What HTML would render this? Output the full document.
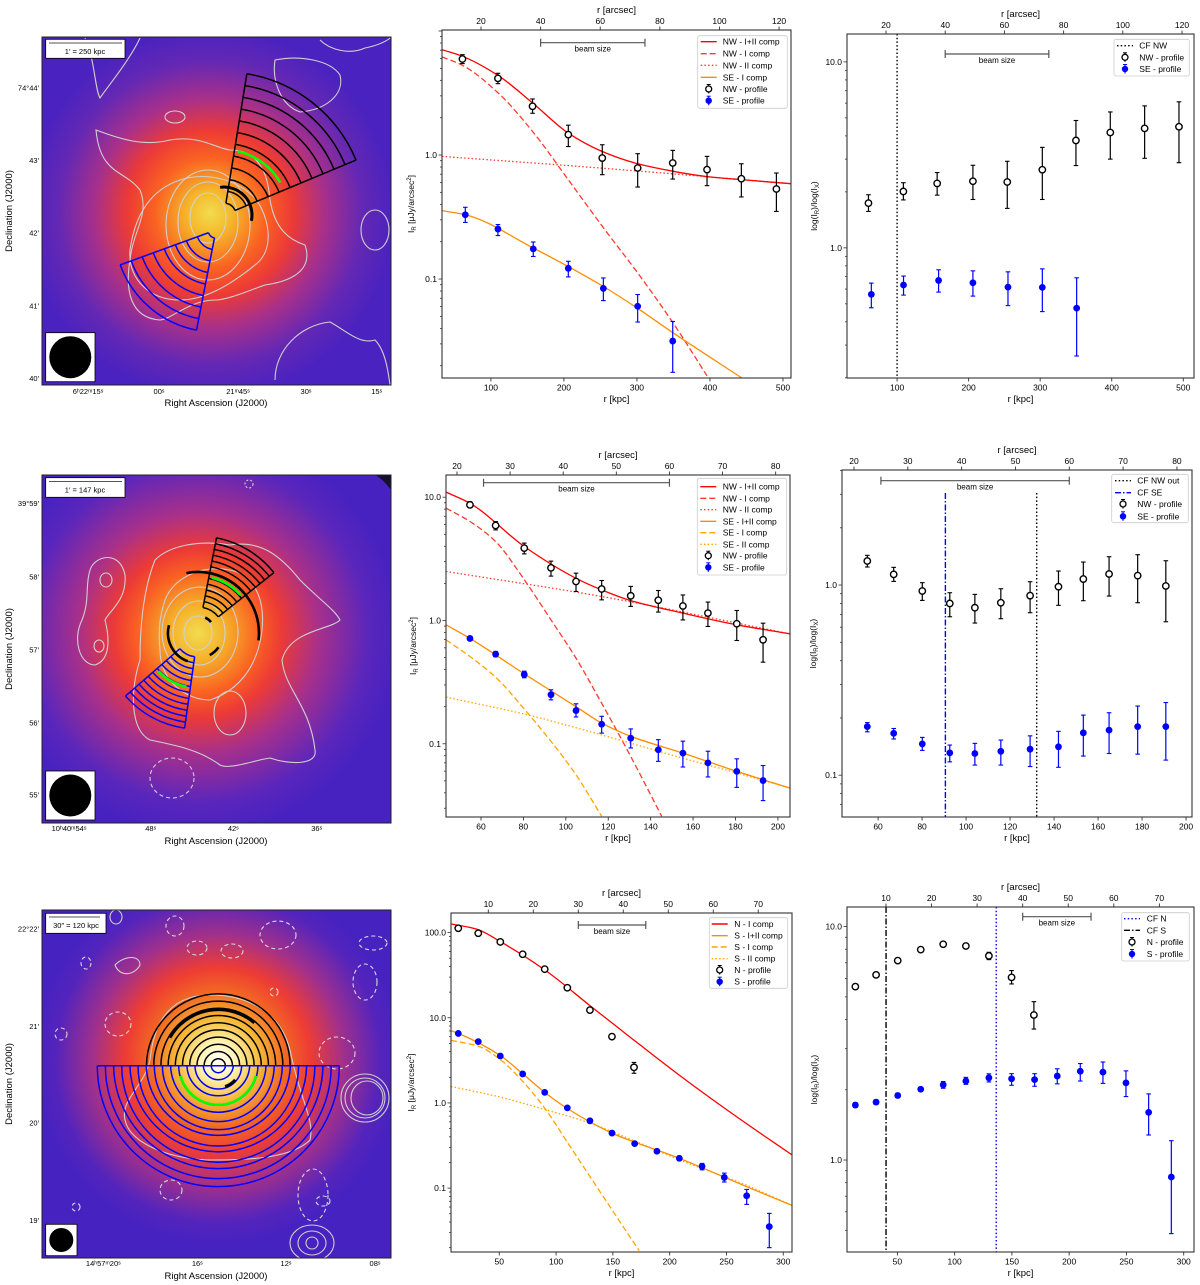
<!DOCTYPE html>
<html><head><meta charset="utf-8">
<style>
html,body{margin:0;padding:0;background:#fff;}
svg{display:block;font-family:"Liberation Sans",sans-serif;}
</style></head>
<body>
<svg id="fig" width="1200" height="1285" viewBox="0 0 1200 1285" xmlns="http://www.w3.org/2000/svg">
<defs>
<radialGradient id="g1" cx="210" cy="213" r="185" gradientUnits="userSpaceOnUse">
<stop offset="0" stop-color="#f2dc50"/><stop offset="0.12" stop-color="#f5b82a"/><stop offset="0.3" stop-color="#fa6222"/><stop offset="0.45" stop-color="#ec3a36"/><stop offset="0.62" stop-color="#a8308a"/><stop offset="0.82" stop-color="#6428b4"/><stop offset="1" stop-color="#4a22c0"/>
</radialGradient>
<radialGradient id="g2" cx="198" cy="633" r="200" gradientUnits="userSpaceOnUse">
<stop offset="0" stop-color="#f2dc50"/><stop offset="0.14" stop-color="#f5b02a"/><stop offset="0.3" stop-color="#fa6222"/><stop offset="0.42" stop-color="#ec3a36"/><stop offset="0.6" stop-color="#a8308a"/><stop offset="0.85" stop-color="#5a26bc"/><stop offset="1" stop-color="#4822c0"/>
</radialGradient>
<radialGradient id="g3" cx="218" cy="1060" r="185" gradientUnits="userSpaceOnUse">
<stop offset="0" stop-color="#ffffff"/><stop offset="0.1" stop-color="#fff4b0"/><stop offset="0.22" stop-color="#f5bc3a"/><stop offset="0.36" stop-color="#f26a22"/><stop offset="0.5" stop-color="#ee3c34"/><stop offset="0.68" stop-color="#a0308c"/><stop offset="0.88" stop-color="#5424bc"/><stop offset="1" stop-color="#4622c0"/>
</radialGradient>
<clipPath id="c1"><rect x="42" y="37" width="349" height="348"/></clipPath>
<clipPath id="c2"><rect x="42" y="475" width="349" height="348"/></clipPath>
<clipPath id="c3"><rect x="42" y="910" width="349" height="348"/></clipPath>
</defs>

<g clip-path="url(#c1)">
<rect x="42" y="37" width="349" height="348" fill="#4a22c0"/>
<rect x="42" y="37" width="349" height="348" fill="url(#g1)"/>
<g fill="none" stroke="#d0d0d0" stroke-width="1.1">
<path d="M96,130 C110,135 140,148 170,140 C200,135 215,148 230,150 C260,150 268,175 270,200 C275,230 290,240 305,245 C312,265 300,280 265,285 C250,290 228,300 215,300 C190,300 170,320 160,320 C130,318 125,290 130,260 C133,230 150,215 140,190 C125,170 100,175 96,130 Z"/>
<path d="M130,250 C135,215 150,190 180,180 C205,172 235,178 255,198 C270,218 275,250 255,265 C230,285 205,300 180,300 C150,300 128,280 130,250 Z"/>
<ellipse cx="208" cy="225" rx="42" ry="55"/>
<ellipse cx="208" cy="222" rx="30" ry="40"/>
<ellipse cx="208" cy="218" rx="18" ry="25"/>
<path d="M85,38 C95,60 95,90 100,98 C105,90 130,60 140,38"/>
<path d="M275,60 C300,55 330,60 340,75 C345,95 325,110 300,112 C280,105 272,80 275,60 Z"/>
<ellipse cx="175" cy="117" rx="10" ry="6"/>
<ellipse cx="375" cy="230" rx="14" ry="20"/>
<path d="M275,380 C275,350 300,325 330,322 C345,330 360,345 375,340 C385,350 388,370 390,385"/>
<path d="M320,40 C330,50 350,55 365,48 C380,45 388,40 390,38"/>
</g>
</g>

<g clip-path="url(#c2)">
<rect x="42" y="475" width="349" height="348" fill="#4822c0"/>
<rect x="42" y="475" width="349" height="348" fill="url(#g2)"/>
<g fill="none" stroke="#d0d0d0" stroke-width="1.1">
<path d="M155,560 C170,545 200,540 230,545 C260,540 280,555 300,580 C320,600 335,610 340,620 C330,630 290,630 282,660 C285,690 310,705 315,750 C318,765 290,765 270,758 C255,760 230,770 220,765 C200,750 175,745 150,740 C130,730 130,690 140,660 C140,620 145,585 155,560 Z"/>
<path d="M165,600 C175,575 205,565 230,570 C255,575 265,600 262,630 C258,665 240,690 210,700 C185,700 160,680 160,650 C158,630 160,615 165,600 Z"/>
<ellipse cx="200" cy="632" rx="38" ry="45"/>
<ellipse cx="199" cy="633" rx="26" ry="32"/>
<ellipse cx="198" cy="633" rx="14" ry="17"/>
<path d="M90,570 C95,555 120,550 125,575 C127,600 110,610 105,620 C110,640 110,660 95,665 C80,665 72,640 82,620 C90,600 85,585 90,570 Z"/>
<ellipse cx="106" cy="580" rx="6" ry="7"/>
<ellipse cx="99" cy="646" rx="5" ry="6"/>
<ellipse cx="230" cy="713" rx="16" ry="22"/>
<ellipse cx="172" cy="778" rx="22" ry="20" stroke-dasharray="4,3"/>
<ellipse cx="249" cy="484" rx="4" ry="4" stroke-dasharray="2,2"/>
</g>
<path d="M375,475 L391,475 L391,490 C387,484 381,478 375,475 Z" fill="#151030"/>
</g>

<g clip-path="url(#c3)">
<rect x="42" y="910" width="349" height="348" fill="#4622c0"/>
<rect x="42" y="910" width="349" height="348" fill="url(#g3)"/>
<g fill="none" stroke="#d0d0d0" stroke-width="1.1">
<path d="M150,1060 C155,1010 180,995 210,995 C245,995 280,1010 290,1050 C300,1100 315,1120 310,1140 C290,1160 240,1160 210,1160 C175,1160 130,1145 125,1120 C120,1100 145,1085 150,1060 Z"/>
<ellipse cx="365" cy="1098" rx="24" ry="24"/><ellipse cx="365" cy="1098" rx="20" ry="20"/><ellipse cx="367" cy="1098" rx="16" ry="17"/>
<ellipse cx="312" cy="1243" rx="22" ry="18"/><ellipse cx="312" cy="1243" rx="14" ry="12"/><ellipse cx="312" cy="1243" rx="6" ry="6"/>
<path d="M115,965 C125,955 140,955 140,965 C135,975 120,978 115,965 Z"/>
<ellipse cx="116" cy="917" rx="6" ry="7"/>
</g>
<g fill="none" stroke="#d8d8d8" stroke-width="1.1" stroke-dasharray="4,3">
<ellipse cx="175" cy="926" rx="9" ry="10"/><ellipse cx="197" cy="948" rx="10" ry="7"/><ellipse cx="232" cy="951" rx="11" ry="7"/>
<ellipse cx="278" cy="935" rx="18" ry="14"/><ellipse cx="373" cy="943" rx="14" ry="7"/><ellipse cx="365" cy="982" rx="12" ry="18"/>
<ellipse cx="118" cy="1024" rx="13" ry="12"/><ellipse cx="61" cy="1034" rx="6" ry="6"/><ellipse cx="337" cy="1053" rx="18" ry="16"/>
<ellipse cx="86" cy="963" rx="5" ry="6"/><ellipse cx="171" cy="1190" rx="11" ry="10"/><ellipse cx="313" cy="1195" rx="15" ry="26"/>
<ellipse cx="323" cy="1201" rx="7" ry="5"/><ellipse cx="76" cy="1207" rx="4" ry="4"/><ellipse cx="274" cy="992" rx="4" ry="4"/>
</g>
</g>

<g id="overlays"></g>

<g font-size="8" fill="#000">
<rect x="42" y="37" width="349" height="348" fill="none" stroke="#222" stroke-width="1"/>
<rect x="42" y="475" width="349" height="348" fill="none" stroke="#222" stroke-width="1"/>
<rect x="42" y="910" width="349" height="348" fill="none" stroke="#222" stroke-width="1"/>

<g><rect x="45.7" y="39.3" width="79.3" height="19" fill="#fff" stroke="#000" stroke-width="0.8"/><line x1="49" y1="43" x2="122" y2="43" stroke="#555" stroke-width="1"/><text x="85" y="54" text-anchor="middle" font-size="7.5">1′ = 250 kpc</text></g>
<g><rect x="45.7" y="332.7" width="49.3" height="49" fill="#fff" stroke="#000" stroke-width="0.8"/><circle cx="70.3" cy="357.2" r="21" fill="#000"/></g>
<g><rect x="45.7" y="477.7" width="79.3" height="19.6" fill="#fff" stroke="#000" stroke-width="0.8"/><line x1="49" y1="481.5" x2="122" y2="481.5" stroke="#555" stroke-width="1"/><text x="85" y="492.5" text-anchor="middle" font-size="7.5">1′ = 147 kpc</text></g>
<g><rect x="45.7" y="771" width="49.3" height="49" fill="#fff" stroke="#000" stroke-width="0.8"/><circle cx="70.3" cy="795.5" r="21" fill="#000"/></g>
<g><rect x="45.7" y="913.3" width="60.3" height="20" fill="#fff" stroke="#000" stroke-width="0.8"/><line x1="49" y1="917" x2="100" y2="917" stroke="#555" stroke-width="1"/><text x="76" y="928" text-anchor="middle" font-size="7.5">30″ = 120 kpc</text></g>
<g><rect x="45.7" y="1224.3" width="31.3" height="31.4" fill="#fff" stroke="#000" stroke-width="0.8"/><circle cx="61.3" cy="1240" r="12" fill="#000"/></g>

<g text-anchor="end" font-size="7.5">
<text x="39" y="90.5">74°44′</text><text x="39" y="163">43′</text><text x="39" y="235.5">42′</text><text x="39" y="308.5">41′</text><text x="39" y="381">40′</text></g>
<g text-anchor="middle" font-size="7.5">
<text x="88" y="394">6ʰ22ᵐ15ˢ</text><text x="159" y="394">00ˢ</text><text x="238" y="394">21ᵐ45ˢ</text><text x="306" y="394">30ˢ</text><text x="376.7" y="394">15ˢ</text></g>
<text x="216" y="406" text-anchor="middle" font-size="9.5">Right Ascension (J2000)</text>
<text transform="translate(12,211) rotate(-90)" text-anchor="middle" font-size="9.5">Declination (J2000)</text>

<g text-anchor="end" font-size="7.5">
<text x="39" y="506">39°59′</text><text x="39" y="579.7">58′</text><text x="39" y="652.3">57′</text><text x="39" y="725.3">56′</text><text x="39" y="797.3">55′</text></g>
<g text-anchor="middle" font-size="7.5">
<text x="69" y="831">10ʰ40ᵐ54ˢ</text><text x="150.7" y="831">48ˢ</text><text x="233.3" y="831">42ˢ</text><text x="316.7" y="831">36ˢ</text></g>
<text x="216" y="844" text-anchor="middle" font-size="9.5">Right Ascension (J2000)</text>
<text transform="translate(12,649) rotate(-90)" text-anchor="middle" font-size="9.5">Declination (J2000)</text>

<g text-anchor="end" font-size="7.5">
<text x="39" y="931.3">22°22′</text><text x="39" y="1029">21′</text><text x="39" y="1125.7">20′</text><text x="39" y="1223">19′</text></g>
<g text-anchor="middle" font-size="7.5">
<text x="103.3" y="1266">14ʰ57ᵐ20ˢ</text><text x="197.3" y="1266">16ˢ</text><text x="286" y="1266">12ˢ</text><text x="375" y="1266">08ˢ</text></g>
<text x="216" y="1279" text-anchor="middle" font-size="9.5">Right Ascension (J2000)</text>
<text transform="translate(12,1084) rotate(-90)" text-anchor="middle" font-size="9.5">Declination (J2000)</text>
</g>
</svg>

<script>
// ===== Row 1 middle (intensity profiles) =====
const r1m_nw_r=[61,109.6,157,206,252.5,301,349,396,443,491];
const r1m_nw_v=[5.94,4.15,2.47,1.46,0.945,0.786,0.862,0.762,0.644,0.532];
const r1m_nw_hi=[6.44,4.56,2.83,1.74,1.21,1.025,1.09,0.975,0.85,0.716];
const r1m_nw_lo=[5.46,3.76,2.17,1.17,0.694,0.552,0.64,0.566,0.459,0.351];
const r1m_se_r=[64.9,109.6,158,206,254,301,349];
const r1m_se_v=[0.330,0.253,0.175,0.122,0.084,0.0603,0.0316];
const r1m_se_hi=[0.379,0.275,0.199,0.139,0.102,0.075,0.0455];
const r1m_se_lo=[0.286,0.224,0.152,0.104,0.067,0.045,0.0177];
const r1m_nwtot_r=[33,61,110,157,206,252,301,349,396,443,511];
const r1m_nwtot_v=[7.07,6.25,4.37,2.63,1.5,1.07,0.85,0.74,0.67,0.633,0.587];
const r1m_nwI_r=[33,61,110,157,206,252,301,349,396];
const r1m_nwI_v=[6.18,5.29,3.16,1.55,0.631,0.269,0.112,0.0447,0.0166];
const r1m_nwII_r=[33,249,511];
const r1m_nwII_v=[0.975,0.786,0.587];
const r1m_seI_r=[33,65,158,254,301,349,443];
const r1m_seI_v=[0.356,0.330,0.178,0.087,0.058,0.037,0.016];
const r1m_xticks=[100,200,300,400,500];
const r1m_yticks=[0.1,1.0];
const r1m_ylabels=["0.1","1.0"];
const r1m_topticks=[20,40,60,80,100,120];
const r1m_beam=[40,75];

// ===== Row 1 right (ratio) =====
const r1r_nw_r=[60,108.8,156,206,254,303,350,398,446,494];
const r1r_nw_v=[1.74,2.01,2.22,2.28,2.26,2.63,3.78,4.17,4.39,4.48];
const r1r_nw_hi=[1.93,2.24,2.54,2.78,2.92,3.47,4.84,5.38,5.80,6.1];
const r1r_nw_lo=[1.57,1.81,1.92,1.82,1.63,1.82,2.77,3.0,3.03,2.87];
const r1r_se_r=[64,109,158,206,255,303,351];
const r1r_se_v=[0.562,0.631,0.668,0.649,0.615,0.613,0.474];
const r1r_se_hi=[0.646,0.705,0.762,0.752,0.743,0.771,0.69];
const r1r_se_lo=[0.476,0.557,0.578,0.55,0.489,0.454,0.262];
const r1r_cf=[100];
const r1r_xticks=[100,200,300,400,500];
const r1r_yticks=[1.0,10.0];
const r1r_ylabels=["1.0","10.0"];
const r1r_topticks=[20,40,60,80,100,120];
const r1r_beam=[40,75];

// ===== Row 2 middle =====
const r2m_r=[54.8,66.9,80.4,93,104.8,116.9,130.6,143.6,155.2,167,180.6,193];
const r2m_nw_v=[8.67,5.89,3.86,2.67,2.07,1.80,1.585,1.46,1.31,1.147,0.94,0.697];
const r2m_nw_hi=[9.17,6.34,4.24,3.03,2.42,2.11,1.89,1.75,1.61,1.41,1.205,0.951];
const r2m_nw_lo=[8.23,5.43,3.47,2.29,1.72,1.47,1.30,1.17,1.01,0.894,0.688,0.459];
const r2m_se_v=[0.715,0.533,0.365,0.25,0.186,0.144,0.111,0.0894,0.084,0.070,0.0597,0.0503];
const r2m_se_hi=[0.742,0.561,0.388,0.274,0.211,0.167,0.132,0.108,0.105,0.087,0.0755,0.0666];
const r2m_se_lo=[0.688,0.508,0.343,0.227,0.165,0.122,0.0925,0.072,0.0648,0.0538,0.0443,0.0346];
const r2m_nwtot_r=[43.5,54.8,80.4,104.8,116.9,130.6,155.2,180.6,205.7];
const r2m_nwtot_v=[10.99,8.93,3.98,2.20,1.77,1.45,1.147,0.922,0.78];
const r2m_nwI_r=[43.5,54.8,66.9,80.4,93,104.8,116.9,130.6,145.2];
const r2m_nwI_v=[8.15,6.35,4.37,2.14,1.01,0.495,0.213,0.079,0.0258];
const r2m_nwII_r=[43.5,116.9,205.7];
const r2m_nwII_v=[2.5,1.565,0.78];
const r2m_setot_r=[43.5,54.8,80.4,104.8,116.9,130.6,155.2,180.6,205.7];
const r2m_setot_v=[0.922,0.715,0.369,0.2,0.147,0.115,0.084,0.0597,0.0437];
const r2m_seI_r=[43.5,54.8,66.9,80.4,93,104.8,116.9];
const r2m_seI_v=[0.697,0.51,0.347,0.191,0.1045,0.0560,0.0258];
const r2m_seII_r=[43.5,80.4,116.9,155.2,180.6,205.7];
const r2m_seII_v=[0.239,0.174,0.118,0.0764,0.058,0.0437];
const r2m_xticks=[60,80,100,120,140,160,180,200];
const r2m_yticks=[0.1,1.0,10.0];
const r2m_ylabels=["0.1","1.0","10.0"];
const r2m_topticks=[20,30,40,50,60,70,80];
const r2m_beam=[25,60];

// ===== Row 2 right =====
const r2r_r=[55.1,67.1,80.1,92.6,104,115.8,129.1,142,153.3,165,178,190.8];
const r2r_nw_v=[1.338,1.138,0.930,0.80,0.76,0.807,0.879,0.98,1.075,1.143,1.12,0.988];
const r2r_nw_hi=[1.433,1.239,1.029,0.911,0.893,0.956,1.041,1.185,1.321,1.409,1.444,1.342];
const r2r_nw_lo=[1.244,1.045,0.830,0.681,0.631,0.665,0.715,0.782,0.827,0.875,0.807,0.641];
const r2r_se_v=[0.18,0.166,0.146,0.131,0.130,0.1335,0.137,0.141,0.167,0.1725,0.18,0.18];
const r2r_se_hi=[0.189,0.176,0.158,0.144,0.147,0.153,0.161,0.170,0.207,0.213,0.231,0.241];
const r2r_se_lo=[0.169,0.155,0.135,0.1175,0.113,0.113,0.111,0.110,0.126,0.13,0.129,0.12];
const r2r_cf_se=[90.6];
const r2r_cf_nw=[132.1];
const r2r_xticks=[60,80,100,120,140,160,180,200];
const r2r_yticks=[0.1,1.0];
const r2r_ylabels=["0.1","1.0"];
const r2r_topticks=[20,30,40,50,60,70,80];
const r2r_beam=[25,60];

// ===== Row 3 middle =====
const r3m_n_r=[13.9,31.5,50.9,70.6,90,109.9,129.8,149.2,168.6];
const r3m_n_v=[112.4,98.2,77.7,55.7,37.2,22.5,12.3,6.0,2.62];
const r3m_n_hi=[115,100.5,79.5,57,38,23,12.6,6.2,2.99];
const r3m_n_lo=[110,96,76,54.4,36.4,22,12,5.8,2.23];
const r3m_s_r=[13.9,31.5,50.9,70.6,90,109.9,129.8,149.2,169.2,188.8,208.5,228.5,248.1,267.8,287.7];
const r3m_s_v=[6.55,5.25,3.56,2.19,1.33,0.875,0.617,0.443,0.333,0.271,0.224,0.180,0.1335,0.0813,0.0353];
const r3m_s_hi=[6.75,5.4,3.65,2.25,1.37,0.9,0.635,0.456,0.343,0.282,0.236,0.195,0.150,0.0965,0.0505];
const r3m_s_lo=[6.35,5.1,3.47,2.13,1.29,0.85,0.6,0.43,0.323,0.26,0.212,0.164,0.118,0.0644,0.02];
const r3m_nI_r=[7.5,30,50.9,90,129.8,168.6,207.9,256,307.4];
const r3m_nI_v=[126,110,78.4,36.5,13.9,5.46,2.15,0.733,0.247];
const r3m_stot_r=[7.5,13.9,50.9,70.6,90,109.9,149.2,208.5,267.8,307.7];
const r3m_stot_v=[7.05,6.55,3.6,2.2,1.33,0.86,0.443,0.224,0.104,0.0627];
const r3m_sI_r=[7.5,31.5,50.9,70.6,90,109.9,129.8,149.2,173.2];
const r3m_sI_v=[5.43,4.64,3.23,1.79,0.87,0.346,0.137,0.0557,0.0184];
const r3m_sII_r=[7.5,50.9,90,129.8,168.6,208.5,267.8,307.7];
const r3m_sII_v=[1.56,1.17,0.838,0.58,0.36,0.215,0.108,0.0627];
const r3m_xticks=[50,100,150,200,250,300];
const r3m_yticks=[0.1,1.0,10.0,100.0];
const r3m_ylabels=["0.1","1.0","10.0","100.0"];
const r3m_topticks=[10,20,30,40,50,60,70];
const r3m_beam=[30,45];

// ===== Row 3 right =====
const r3r_n_r=[13.3,31.4,50.3,70.4,90,109.8,129.9,149.7,169.2];
const r3r_n_v=[5.53,6.21,7.15,7.97,8.40,8.26,7.49,6.06,4.18];
const r3r_n_hi=[5.68,6.35,7.3,8.12,8.6,8.45,7.76,6.48,4.77];
const r3r_n_lo=[5.38,6.07,7.0,7.82,8.2,8.07,7.22,5.68,3.64];
const r3r_s_r=[13.3,31.4,50.3,70.4,90,109.8,129.9,149.7,169.8,189.6,209.7,229.5,249.6,269.4,289.2];
const r3r_s_v=[1.72,1.77,1.89,2.01,2.10,2.18,2.25,2.23,2.21,2.29,2.40,2.38,2.14,1.60,0.846];
const r3r_s_hi=[1.76,1.81,1.93,2.05,2.17,2.26,2.34,2.344,2.344,2.46,2.59,2.63,2.41,1.92,1.21];
const r3r_s_lo=[1.68,1.73,1.85,1.97,2.03,2.11,2.16,2.09,2.07,2.12,2.18,2.13,1.87,1.28,0.484];
const r3r_cf_s=[40.1];
const r3r_cf_n=[136.3];
const r3r_xticks=[50,100,150,200,250,300];
const r3r_yticks=[1.0,10.0];
const r3r_ylabels=["1.0","10.0"];
const r3r_topticks=[10,20,30,40,50,60,70];
const r3r_beam=[40,55];

const NS='http://www.w3.org/2000/svg';
const svg=document.getElementById('fig');
function mk(parent,tag,attrs,name,inter){
  const el=document.createElementNS(NS,tag);
  for(const k in attrs) el.setAttribute(k,attrs[k]);
  
  
  parent.appendChild(el);
  return el;
}
function txt(parent,x,y,s,size,anchor,name){
  const t=mk(parent,'text',{x:x,y:y,'font-size':size,'text-anchor':anchor||'middle',fill:'#000'},name,false);
  t.textContent=s;
  return t;
}
function smooth(pts){
  const n=pts.length;
  const f=v=>v.toFixed(1);
  if(n<3){return 'M'+pts.map(p=>f(p[0])+','+f(p[1])).join(' L');}
  const dx=[],sl=[];
  for(let i=0;i<n-1;i++){dx.push(pts[i+1][0]-pts[i][0]);sl.push((pts[i+1][1]-pts[i][1])/dx[i]);}
  const m=new Array(n);
  m[0]=sl[0];m[n-1]=sl[n-2];
  for(let i=1;i<n-1;i++){
    if(sl[i-1]*sl[i]<=0) m[i]=0;
    else{const w1=2*dx[i]+dx[i-1],w2=dx[i]+2*dx[i-1];m[i]=(w1+w2)/(w1/sl[i-1]+w2/sl[i]);}
  }
  let d='M'+f(pts[0][0])+','+f(pts[0][1]);
  for(let i=0;i<n-1;i++){
    const h=dx[i]/3;
    d+=' C'+f(pts[i][0]+h)+','+f(pts[i][1]+m[i]*h)+' '+f(pts[i+1][0]-h)+','+f(pts[i+1][1]-m[i+1]*h)+' '+f(pts[i+1][0])+','+f(pts[i+1][1]);
  }
  return d;
}
let clipN=0;
const DASH={solid:'none',dashed:'6,3',dotted:'1.5,2.2',dashdot:'6,2,1.5,2'};
function plot(c){
  const g=mk(svg,'g',{},c.name,false);
  const X=r=>c.x0+(r-c.xmin)/(c.xmax-c.xmin)*(c.x1-c.x0);
  const Y=v=>c.y1-(Math.log10(v)-c.lmin)/(c.lmax-c.lmin)*(c.y1-c.y0);
  const A=a=>c.x0+(a-c.amin)/(c.amax-c.amin)*(c.x1-c.x0);
  clipN++;
  const cp=mk(svg.querySelector('defs'),'clipPath',{id:'pc'+clipN},'plot-clip',false);
  mk(cp,'rect',{x:c.x0,y:c.y0,width:c.x1-c.x0,height:c.y1-c.y0},'plot-clip-rect',false);
  const inner=mk(g,'g',{'clip-path':'url(#pc'+clipN+')'},'plot-area',false);
  (c.vlines||[]).forEach(vl=>{
    const ytop=vl.top?Y(vl.top):c.y0;
    mk(inner,'line',{x1:X(vl.r),x2:X(vl.r),y1:ytop,y2:c.y1,stroke:vl.color,'stroke-width':1.4,'stroke-dasharray':DASH[vl.dash]},vl.name,false);
  });
  (c.curves||[]).forEach(cv=>{
    const pts=cv.r.map((r,i)=>[X(r),Y(cv.v[i])]);
    mk(inner,'path',{d:smooth(pts),fill:'none',stroke:cv.color,'stroke-width':cv.w||1.3,'stroke-dasharray':DASH[cv.dash]},cv.name,false);
  });
  (c.series||[]).forEach(s=>{
    const sg=mk(inner,'g',{},s.name,false);
    s.r.forEach((r,i)=>{
      const x=X(r);
      mk(sg,'line',{x1:x,x2:x,y1:Y(s.hi[i]),y2:Y(s.lo[i]),stroke:s.color,'stroke-width':1.2},s.name+'-errorbar',false);
      mk(sg,'line',{x1:x-2.3,x2:x+2.3,y1:Y(s.hi[i]),y2:Y(s.hi[i]),stroke:s.color,'stroke-width':1.1},s.name+'-cap',false);
      mk(sg,'line',{x1:x-2.3,x2:x+2.3,y1:Y(s.lo[i]),y2:Y(s.lo[i]),stroke:s.color,'stroke-width':1.1},s.name+'-cap',false);
      if(s.open) mk(sg,'circle',{cx:x,cy:Y(s.v[i]),r:3.2,fill:'#fff',stroke:'#000','stroke-width':1.4},s.name+'-point',true);
      else mk(sg,'circle',{cx:x,cy:Y(s.v[i]),r:3.4,fill:'#0000ff'},s.name+'-point',true);
    });
  });
  const bg=mk(g,'g',{},'beam-size-bar',false);
  const bx0=A(c.beam[0]),bx1=A(c.beam[1]);
  mk(bg,'line',{x1:bx0,x2:bx1,y1:c.beamY,y2:c.beamY,stroke:'#555','stroke-width':1.2},'beam-bar-line',false);
  mk(bg,'line',{x1:bx0,x2:bx0,y1:c.beamY-4,y2:c.beamY+4,stroke:'#555','stroke-width':1.2},'beam-bar-cap',false);
  mk(bg,'line',{x1:bx1,x2:bx1,y1:c.beamY-4,y2:c.beamY+4,stroke:'#555','stroke-width':1.2},'beam-bar-cap',false);
  txt(bg,(bx0+bx1)/2,c.beamY+9,'beam size',8,'middle','beam-size-label');
  mk(g,'rect',{x:c.x0,y:c.y0,width:c.x1-c.x0,height:c.y1-c.y0,fill:'none',stroke:'#333','stroke-width':1.1},'plot-frame',false);
  c.xticks.forEach(t=>{
    const x=X(t);
    mk(g,'line',{x1:x,x2:x,y1:c.y1,y2:c.y1+3.5,stroke:'#333','stroke-width':0.9},'x-tick',false);
    txt(g,x,c.y1+12.5,String(t),8.5,'middle','x-tick-label');
  });
  txt(g,(c.x0+c.x1)/2,c.y1+24,'r [kpc]',9.5,'middle','x-axis-title');
  c.topticks.forEach(t=>{
    const x=A(t);
    mk(g,'line',{x1:x,x2:x,y1:c.y0,y2:c.y0-3.5,stroke:'#333','stroke-width':0.9},'top-tick',false);
    txt(g,x,c.y0-6,String(t),8.5,'middle','top-tick-label');
  });
  txt(g,(c.x0+c.x1)/2,c.y0-17,'r  [arcsec]',9.5,'middle','top-axis-title');
  for(let d=Math.floor(c.lmin);d<=Math.ceil(c.lmax);d++){
    for(let m=1;m<10;m++){
      const lv=d+Math.log10(m);
      if(lv<c.lmin||lv>c.lmax) continue;
      const y=Y(Math.pow(10,lv));
      mk(g,'line',{x1:c.x0,x2:c.x0-(m===1?3.5:2),y1:y,y2:y,stroke:'#333','stroke-width':0.8},m===1?'y-tick':'y-minor-tick',false);
    }
  }
  c.yticks.forEach((t,i)=>{
    txt(g,c.x0-5,Y(t)+3,c.ylabels[i],8.5,'end','y-tick-label');
  });
  const yl=mk(g,'text',{transform:'translate('+(c.ylabelX)+','+((c.y0+c.y1)/2)+') rotate(-90)','font-size':8.5,'text-anchor':'middle',fill:'#000'},'y-axis-title',false);
  if(c.ratio){
    yl.innerHTML='log(I<tspan font-size="6" dy="2">R</tspan><tspan dy="-2">)/log(I</tspan><tspan font-size="6" dy="2">X</tspan><tspan dy="-2">)</tspan>';
  } else {
    yl.innerHTML='I<tspan font-size="6" dy="2">R</tspan><tspan dy="-2"> [μJy/arcsec</tspan><tspan font-size="6" dy="-3">2</tspan><tspan dy="3">]</tspan>';
  }
  const L=c.legend;
  const lg=mk(g,'g',{},'legend',false);
  mk(lg,'rect',{x:L.x0,y:L.y0,width:L.x1-L.x0,height:L.y1-L.y0,rx:2,fill:'#fff','fill-opacity':0.85,stroke:'#ccc','stroke-width':0.8},'legend-box',false);
  L.items.forEach((it,i)=>{
    const y=L.ys[i];
    const eg=mk(lg,'g',{},'legend-entry',false);
    if(it.type==='line'){
      mk(eg,'line',{x1:L.lx0,x2:L.lx0+16,y1:y,y2:y,stroke:it.color,'stroke-width':1.4,'stroke-dasharray':DASH[it.dash]},'legend-line',false);
    } else {
      const cx=L.lx0+8;
      mk(eg,'line',{x1:cx,x2:cx,y1:y-4.5,y2:y+4.5,stroke:it.color,'stroke-width':1.1},'legend-errorbar',false);
      mk(eg,'line',{x1:cx-2,x2:cx+2,y1:y-4.5,y2:y-4.5,stroke:it.color,'stroke-width':1},'legend-cap',false);
      if(it.open) mk(eg,'circle',{cx:cx,cy:y,r:3,fill:'#fff',stroke:'#000','stroke-width':1.3},'legend-marker',false);
      else mk(eg,'circle',{cx:cx,cy:y,r:3.2,fill:'#0000ff'},'legend-marker',false);
    }
    txt(eg,L.tx,y+3,it.label,8.5,'start','legend-label');
  });
}
const RED='#ff0000',RED2='#ff3b2f',DO='#ff8c00',OR='#ffa500',BL='#0000ff';

plot({name:'profile-plot-1',x0:442,x1:791,y0:30,y1:378,xmin:33,xmax:511,lmin:-1.798,lmax:1.008,amin:6.91,amax:124.0,
  xticks:r1m_xticks,yticks:r1m_yticks,ylabels:r1m_ylabels,topticks:r1m_topticks,beam:r1m_beam,beamY:42.7,ylabelX:414,
  curves:[{r:r1m_nwII_r,v:r1m_nwII_v,color:RED2,dash:'dotted',name:'nw-ii-comp-curve'},
          {r:r1m_nwI_r,v:r1m_nwI_v,color:RED2,dash:'dashed',name:'nw-i-comp-curve'},
          {r:r1m_nwtot_r,v:r1m_nwtot_v,color:RED,dash:'solid',name:'nw-total-curve'},
          {r:r1m_seI_r,v:r1m_seI_v,color:DO,dash:'solid',name:'se-i-comp-curve'}],
  series:[{r:r1m_nw_r,v:r1m_nw_v,hi:r1m_nw_hi,lo:r1m_nw_lo,open:true,color:'#000',name:'nw-profile'},
          {r:r1m_se_r,v:r1m_se_v,hi:r1m_se_hi,lo:r1m_se_lo,open:false,color:BL,name:'se-profile'}],
  legend:{x0:697.7,x1:787.3,y0:35.7,y1:108.3,lx0:700.7,tx:722.7,ys:[41.7,53.7,65.3,77.3,89,100.7],
    items:[{type:'line',color:RED,dash:'solid',label:'NW - I+II comp'},{type:'line',color:RED2,dash:'dashed',label:'NW - I comp'},
           {type:'line',color:RED2,dash:'dotted',label:'NW - II comp'},{type:'line',color:DO,dash:'solid',label:'SE - I comp'},
           {type:'m',open:true,color:'#000',label:'NW - profile'},{type:'m',open:false,color:BL,label:'SE - profile'}]}
});

plot({name:'ratio-plot-1',ratio:true,x0:847,x1:1194,y0:34,y1:378,xmin:30,xmax:515,lmin:-0.70,lmax:1.15,amin:6.82,amax:124.05,
  xticks:r1r_xticks,yticks:r1r_yticks,ylabels:r1r_ylabels,topticks:r1r_topticks,beam:r1r_beam,beamY:54,ylabelX:817,
  vlines:[{r:r1r_cf[0],color:'#000',dash:'dotted',name:'cf-nw-line'}],
  series:[{r:r1r_nw_r,v:r1r_nw_v,hi:r1r_nw_hi,lo:r1r_nw_lo,open:true,color:'#000',name:'nw-ratio-profile'},
          {r:r1r_se_r,v:r1r_se_v,hi:r1r_se_hi,lo:r1r_se_lo,open:false,color:BL,name:'se-ratio-profile'}],
  legend:{x0:1114,x1:1189.3,y0:39.3,y1:76,lx0:1117,tx:1139.3,ys:[45.7,57.3,69],
    items:[{type:'line',color:'#000',dash:'dotted',label:'CF NW'},{type:'m',open:true,color:'#000',label:'NW - profile'},{type:'m',open:false,color:BL,label:'SE - profile'}]}
});

plot({name:'profile-plot-2',x0:446,x1:790,y0:475,y1:817,xmin:43.5,xmax:205.7,lmin:-1.594,lmax:1.18,amin:17.93,amax:82.7,
  xticks:r2m_xticks,yticks:r2m_yticks,ylabels:r2m_ylabels,topticks:r2m_topticks,beam:r2m_beam,beamY:482.7,ylabelX:416,
  curves:[{r:r2m_nwII_r,v:r2m_nwII_v,color:RED2,dash:'dotted',name:'nw-ii-comp-curve'},
          {r:r2m_nwI_r,v:r2m_nwI_v,color:RED2,dash:'dashed',name:'nw-i-comp-curve'},
          {r:r2m_nwtot_r,v:r2m_nwtot_v,color:RED,dash:'solid',name:'nw-total-curve'},
          {r:r2m_seII_r,v:r2m_seII_v,color:OR,dash:'dotted',name:'se-ii-comp-curve'},
          {r:r2m_seI_r,v:r2m_seI_v,color:OR,dash:'dashed',name:'se-i-comp-curve'},
          {r:r2m_setot_r,v:r2m_setot_v,color:DO,dash:'solid',name:'se-total-curve'}],
  series:[{r:r2m_r,v:r2m_nw_v,hi:r2m_nw_hi,lo:r2m_nw_lo,open:true,color:'#000',name:'nw-profile'},
          {r:r2m_r,v:r2m_se_v,hi:r2m_se_hi,lo:r2m_se_lo,open:false,color:BL,name:'se-profile'}],
  legend:{x0:697.3,x1:786.7,y0:478.3,y1:575,lx0:700.3,tx:722.7,ys:[486.7,498.3,509.7,521.3,532.7,544.3,555.7,567.3],
    items:[{type:'line',color:RED,dash:'solid',label:'NW - I+II comp'},{type:'line',color:RED2,dash:'dashed',label:'NW - I comp'},
           {type:'line',color:RED2,dash:'dotted',label:'NW - II comp'},{type:'line',color:DO,dash:'solid',label:'SE - I+II comp'},
           {type:'line',color:OR,dash:'dashed',label:'SE - I comp'},{type:'line',color:OR,dash:'dotted',label:'SE - II comp'},
           {type:'m',open:true,color:'#000',label:'NW - profile'},{type:'m',open:false,color:BL,label:'SE - profile'}]}
});

plot({name:'ratio-plot-2',ratio:true,x0:842,x1:1192,y0:470,y1:817,xmin:43.6,xmax:202.7,lmin:-1.22,lmax:0.605,amin:17.77,amax:82.8,
  xticks:r2r_xticks,yticks:r2r_yticks,ylabels:r2r_ylabels,topticks:r2r_topticks,beam:r2r_beam,beamY:480.7,ylabelX:816,
  vlines:[{r:r2r_cf_se[0],top:3.05,color:BL,dash:'dashdot',name:'cf-se-line'},{r:r2r_cf_nw[0],top:3.05,color:'#000',dash:'dotted',name:'cf-nw-out-line'}],
  series:[{r:r2r_r,v:r2r_nw_v,hi:r2r_nw_hi,lo:r2r_nw_lo,open:true,color:'#000',name:'nw-ratio-profile'},
          {r:r2r_r,v:r2r_se_v,hi:r2r_se_hi,lo:r2r_se_lo,open:false,color:BL,name:'se-ratio-profile'}],
  legend:{x0:1111.7,x1:1188.3,y0:474.3,y1:522.7,lx0:1115,tx:1137.3,ys:[480.7,492.7,504,516.3],
    items:[{type:'line',color:'#000',dash:'dotted',label:'CF NW out'},{type:'line',color:BL,dash:'dashdot',label:'CF SE'},
           {type:'m',open:true,color:'#000',label:'NW - profile'},{type:'m',open:false,color:BL,label:'SE - profile'}]}
});

plot({name:'profile-plot-3',x0:451,x1:792,y0:913,y1:1252,xmin:7.5,xmax:307.7,lmin:-1.75,lmax:2.23,amin:1.71,amax:77.5,
  xticks:r3m_xticks,yticks:r3m_yticks,ylabels:r3m_ylabels,topticks:r3m_topticks,beam:r3m_beam,beamY:925,ylabelX:414,
  curves:[{r:r3m_nI_r,v:r3m_nI_v,color:RED,dash:'solid',name:'n-i-comp-curve'},
          {r:r3m_sII_r,v:r3m_sII_v,color:OR,dash:'dotted',name:'s-ii-comp-curve'},
          {r:r3m_sI_r,v:r3m_sI_v,color:OR,dash:'dashed',name:'s-i-comp-curve'},
          {r:r3m_stot_r,v:r3m_stot_v,color:DO,dash:'solid',name:'s-total-curve'}],
  series:[{r:r3m_n_r,v:r3m_n_v,hi:r3m_n_hi,lo:r3m_n_lo,open:true,color:'#000',name:'n-profile'},
          {r:r3m_s_r,v:r3m_s_v,hi:r3m_s_hi,lo:r3m_s_lo,open:false,color:BL,name:'s-profile'}],
  legend:{x0:709.3,x1:787.7,y0:917.7,y1:988.3,lx0:711.7,tx:734.3,ys:[924,935.7,947,958.7,970,981.7],
    items:[{type:'line',color:RED,dash:'solid',label:'N - I comp'},{type:'line',color:DO,dash:'solid',label:'S - I+II comp'},
           {type:'line',color:OR,dash:'dashed',label:'S - I comp'},{type:'line',color:OR,dash:'dotted',label:'S - II comp'},
           {type:'m',open:true,color:'#000',label:'N - profile'},{type:'m',open:false,color:BL,label:'S - profile'}]}
});

plot({name:'ratio-plot-3',ratio:true,x0:847,x1:1194,y0:907,y1:1252,xmin:6,xmax:309,lmin:-0.394,lmax:1.084,amin:1.44,amax:77.6,
  xticks:r3r_xticks,yticks:r3r_yticks,ylabels:r3r_ylabels,topticks:r3r_topticks,beam:r3r_beam,beamY:916.7,ylabelX:817,
  vlines:[{r:r3r_cf_s[0],color:'#000',dash:'dashdot',name:'cf-s-line'},{r:r3r_cf_n[0],color:BL,dash:'dotted',name:'cf-n-line'}],
  series:[{r:r3r_n_r,v:r3r_n_v,hi:r3r_n_hi,lo:r3r_n_lo,open:true,color:'#000',name:'n-ratio-profile'},
          {r:r3r_s_r,v:r3r_s_v,hi:r3r_s_hi,lo:r3r_s_lo,open:false,color:BL,name:'s-ratio-profile'}],
  legend:{x0:1121.7,x1:1189.3,y0:912.7,y1:961,lx0:1124,tx:1146.7,ys:[918.7,930.3,942,954],
    items:[{type:'line',color:BL,dash:'dotted',label:'CF N'},{type:'line',color:'#000',dash:'dashdot',label:'CF S'},
           {type:'m',open:true,color:'#000',label:'N - profile'},{type:'m',open:false,color:BL,label:'S - profile'}]}
});

const ov=document.getElementById('overlays');
function P(cx,cy,r,a){const t=a*Math.PI/180;return [cx+r*Math.cos(t),cy-r*Math.sin(t)];}
function arc(parent,cx,cy,r,a1,a2,color,w,name){
  const p1=P(cx,cy,r,a1),p2=P(cx,cy,r,a2);
  const large=(a2-a1)>180?1:0;
  mk(parent,'path',{d:'M'+p1[0].toFixed(1)+','+p1[1].toFixed(1)+' A'+r+','+r+' 0 '+large+' 0 '+p2[0].toFixed(1)+','+p2[1].toFixed(1),fill:'none',stroke:color,'stroke-width':w},name,false);
}
function sector(parent,cx,cy,a1,a2,r0,r1,n,color,name){
  const g=mk(parent,'g',{},name,false);
  for(let i=0;i<n;i++){const r=r0+(r1-r0)*i/(n-1);arc(g,cx,cy,r,a1,a2,color,1.5,'sector-arc');}
  [a1,a2].forEach(a=>{const p=P(cx,cy,r0,a),q=P(cx,cy,r1,a);mk(g,'line',{x1:p[0],y1:p[1],x2:q[0],y2:q[1],stroke:color,'stroke-width':1.5},'sector-edge',false);});
}
const o1=mk(ov,'g',{'clip-path':'url(#c1)'},'sectors-1',false);
sector(o1,224,215,22.6,80.8,12,143,12,'#000','nw-sector-1');
arc(o1,224,215,65,30,78,'#00ff00',2.6,'green-arc-1');
arc(o1,224,215,28,-12,98,'#000',3,'thick-arc-1');
sector(o1,216,230,200,259,8,102,9,'#0000ff','se-sector-1');

const o2=mk(ov,'g',{'clip-path':'url(#c2)'},'sectors-2',false);
sector(o2,198,633,38.5,79,26,97,13,'#000','nw-sector-2');
arc(o2,198,633,57,42,76,'#00ff00',2.6,'green-arc-2');
sector(o2,198,633,221,262,24,96,13,'#0000ff','se-sector-2');
arc(o2,198,633,55,224,258,'#00ff00',2.6,'green-arc-2b');
arc(o2,198,633,61,-7,101,'#000',2.6,'thick-arc-2');
arc(o2,198,633,17,40,65,'#000',2.6,'small-arc-2');
arc(o2,198,633,30,165,250,'#000',2.6,'sw-arc-2');
arc(o2,198,633,25,-62,-35,'#000',2.6,'se-small-arc-2');

const o3=mk(ov,'g',{'clip-path':'url(#c3)'},'sectors-3',false);
const c3x=218.3,c3y=1065.7;
for(let i=0;i<10;i++){arc(o3,c3x,c3y,7+i*7.2,0,180,'#000',1.5,'n-annulus-arc');}
for(let i=0;i<15;i++){arc(o3,c3x,c3y,7+i*(114/14),180,360,'#0000ff',1.5,'s-annulus-arc');}
mk(o3,'line',{x1:c3x-121,x2:c3x+121,y1:c3y,y2:c3y,stroke:'#0000ff','stroke-width':1.5},'s-sector-edge',false);
arc(o3,c3x,c3y,39,195,345,'#00ff00',2.6,'green-arc-3');
arc(o3,c3x,c3y,56,50,150,'#000',3,'thick-arc-3');
arc(o3,c3x,c3y,22,-72,-40,'#000',3,'small-arc-3');
</script>
</body></html>
